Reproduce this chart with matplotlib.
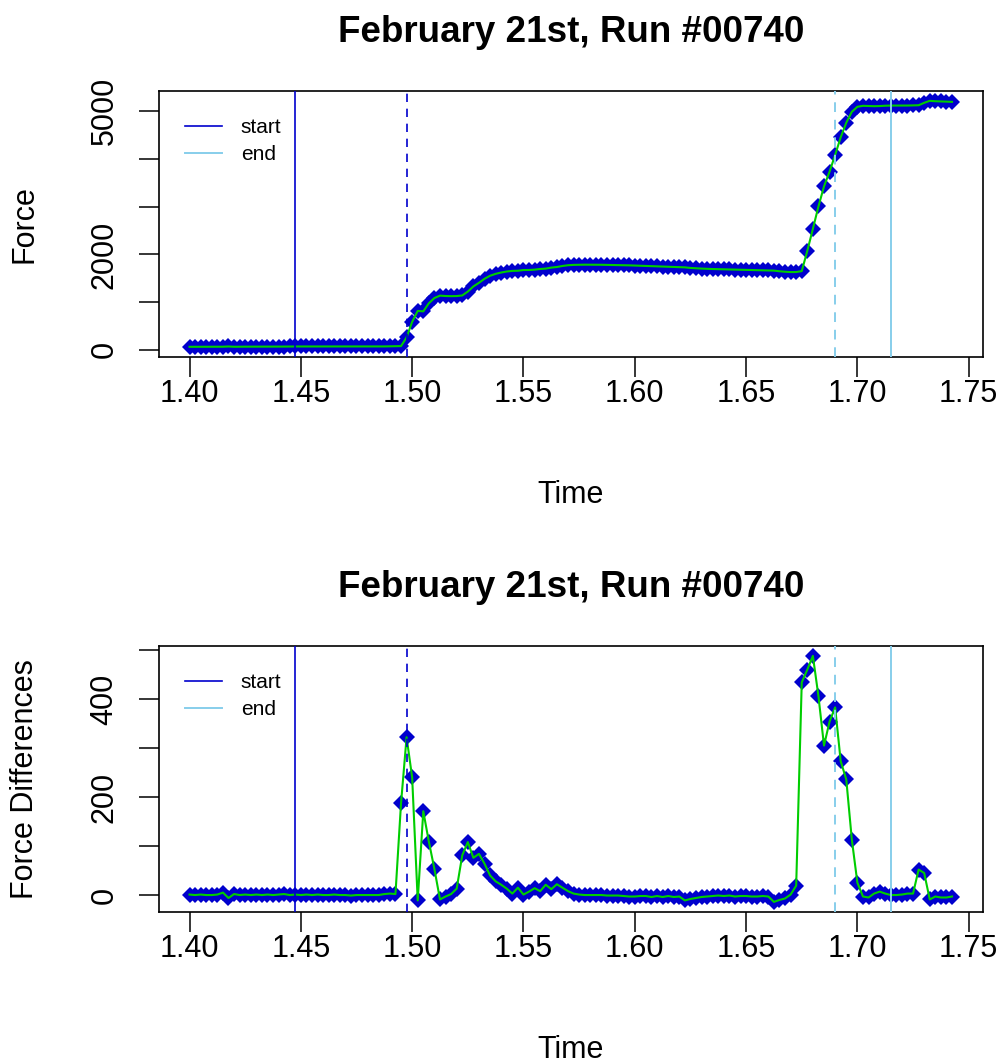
import matplotlib
matplotlib.use("Agg")
import matplotlib.pyplot as plt
import numpy as np

plt.rcParams['font.family'] = ['Liberation Sans', 'DejaVu Sans']

# load cell readings, one every 2.5 ms
force = [62, 62, 63, 63, 63, 63, 64, 69, 63, 65,
         65, 65, 65, 65, 66, 66, 66, 67, 69, 69,
         69, 69, 69, 70, 70, 70, 70, 71, 71, 71,
         70, 70, 70, 70, 70, 70, 72, 75,
         77, 260, 585, 815, 805, 975, 1085, 1135, 1127, 1124,
         1126, 1139, 1220, 1328, 1404, 1488, 1552, 1592, 1620, 1641,
         1654, 1657, 1672, 1673, 1680, 1694, 1702, 1723, 1735, 1757,
         1772, 1780,
         1783, 1784, 1784, 1783, 1782, 1780, 1778, 1776, 1773, 1770,
         1766, 1762, 1758, 1754, 1750, 1745, 1741, 1736, 1732, 1728,
         1716, 1708, 1702, 1697, 1693, 1690, 1687, 1684, 1681, 1678,
         1675, 1672, 1669, 1666, 1663, 1660, 1646, 1636, 1629, 1630,
         1649, 2075, 2535, 3005, 3425, 3735, 4085, 4455, 4760, 4990,
         5095, 5115, 5112, 5107, 5110, 5117, 5120, 5120, 5120, 5121,
         5124, 5127, 5178, 5220, 5211, 5208, 5203, 5198]

# forward differences of the force signal
force_diff = [1, 0, 1, 0, 0, 1, 5, -6, 2, 0,
              1, 0, 1, 0, 1, 0, 1, 2, 0, 1,
              0, 1, 0, 1, 0, 0, 1, 0, 0, -1,
              0, 0, 0, 0, 0, 2, 3, 2,
              187, 322, 240, -11, 171, 109, 53, -9, -3, 2,
              13, 81, 108, 76, 84, 64, 40, 28, 21, 13,
              3, 15, 1, 7, 14, 8, 21, 12, 22, 15,
              8, 3,
              1, 0, 0, 0, 0, -1, -1, -1, -2, -3,
              -3, -2, -2, -4, -2, -4, -2, -4, -3, -11,
              -8, -6, -4, -3, -2, -1, -2, -1, -3, -2,
              -2, -3, -3, -2, -3, -14, -10, -7, 1, 19,
              434, 460, 488, 406, 305, 354, 383, 273, 236, 113,
              25, -3, -5, 3, 7, 3, 0, 0, 1, 3,
              3, 52, 45, -9, -3, -5, -5, -3]

time = np.round(1.40 + 0.0025 * np.arange(len(force)), 4)

start_times = [1.4475, 1.4975]   # solid = marked, dashed = detected
end_times = [1.715, 1.69]

title = "February 21st, Run #00740"
xticks = [1.40, 1.45, 1.50, 1.55, 1.60, 1.65, 1.70, 1.75]

force_ticks = [0, 1000, 2000, 3000, 4000, 5000]
force_ticklabels = ["0", "", "2000", "", "", "5000"]
diff_ticks = [0, 100, 200, 300, 400, 500]
diff_ticklabels = ["0", "", "200", "", "400", ""]

BLUE = "#0000CD"
SKY = "#87CEEB"
GREEN = "#00CD00"
DASH = (0, (5, 4))


def panel(ax, y, ylabel, yticks, yticklabels):
  ax.plot(time, y, "D", color=BLUE, ms=8.5, mew=0, zorder=2)
  ax.plot(time, y, color=GREEN, lw=1.5, zorder=3)
  s1 = ax.axvline(start_times[0], color=BLUE, lw=1.2, zorder=4)
  ax.axvline(start_times[1], color=BLUE, lw=1.2, ls=DASH, zorder=4)
  e1 = ax.axvline(end_times[0], color=SKY, lw=1.4, zorder=4)
  ax.axvline(end_times[1], color=SKY, lw=1.4, ls=DASH, zorder=4)

  # R-style 4% padding around the data
  xpad = 0.04 * (time[-1] - time[0])
  ax.set_xlim(time[0] - xpad, time[-1] + xpad)
  ypad = 0.04 * (max(y) - min(y))
  ax.set_ylim(min(y) - ypad, max(y) + ypad)

  ax.set_xticks(xticks)
  ax.set_xticklabels([f"{v:.2f}" for v in xticks])
  ax.set_yticks(yticks)
  ax.set_yticklabels(yticklabels, rotation=90, va="center")
  ax.tick_params(axis="both", direction="out", length=14.4, width=1.1,
                 labelsize=22)
  ax.tick_params(axis="x", pad=1.5)
  ax.tick_params(axis="y", pad=14)
  for sp in ax.spines.values():
    sp.set_linewidth(1.2)

  ax.set_title(title, fontsize=26.5, fontweight="bold", pad=35)
  ax.set_xlabel("Time", fontsize=22)
  ax.xaxis.set_label_coords(0.5, -0.522)
  ax.xaxis.label.set_va("center")
  ax.set_ylabel(ylabel, fontsize=22)
  ax.yaxis.set_label_coords(-0.163, 0.5)
  ax.yaxis.label.set_va("center")

  ax.legend([s1, e1], ["start", "end"], loc="upper left",
            bbox_to_anchor=(0.031, 0.898), frameon=False, fontsize=15,
            borderpad=0, borderaxespad=0, handlelength=1.8,
            handletextpad=0.9, labelspacing=0.38)


fig = plt.figure(figsize=(10.04, 10.64), dpi=100)
ax1 = fig.add_axes([0.1584, 0.6648, 0.8202, 0.2497])
ax2 = fig.add_axes([0.1584, 0.1431, 0.8202, 0.2497])

panel(ax1, force, "Force", force_ticks, force_ticklabels)
panel(ax2, force_diff, "Force Differences", diff_ticks, diff_ticklabels)

fig.savefig("out.png", dpi=100)
